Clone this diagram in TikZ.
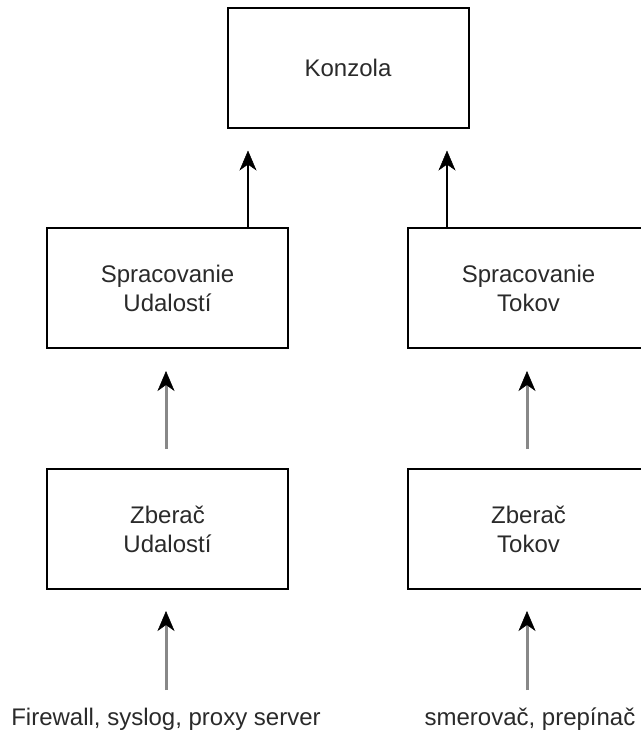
\documentclass[tikz,border=0pt]{standalone}
\usepackage{fontspec}
\setmainfont{Liberation Sans}
\usetikzlibrary{arrows.meta}
\definecolor{txt}{HTML}{2A2A2A}
\definecolor{lgrey}{HTML}{888888}
\tikzset{
  box/.style={draw=black, line width=2pt, minimum width=241pt, minimum height=120pt,
    inner sep=0pt, align=center, text=txt, font=\fontsize{24}{29}\selectfont},
  lbl/.style={inner sep=0pt, text=txt, font=\fontsize{24}{29}\selectfont},
  arrtip/.style={-{Stealth[length=20pt,width=17pt,inset=6pt,color=black,line width=0.5pt]}},
  toparr/.style={arrtip, draw=black, line width=2pt},
  lowarr/.style={arrtip, draw=lgrey, line width=3pt}
}
\begin{document}
\begin{tikzpicture}[x=1pt,y=-1pt]
\useasboundingbox (0,0) rectangle (640,731);
\fill[white] (0,0) rectangle (640,731);
\node[box] (kz) at (348,67.5) {Konzola};
\node[box] (su) at (167.5,288) {Spracovanie\\Udalostí};
\node[box] (st) at (528.5,288) {Spracovanie\\Tokov};
\node[box] (zu) at (167.5,529) {Zberač\\Udalostí};
\node[box] (zt) at (528.5,529) {Zberač\\Tokov};
\node[lbl] (fw) at (166,719) {Firewall, syslog, proxy server};
\node[lbl] (sm) at (530,719) {smerovač, prepínač};
% top arrows
\draw[toparr, shorten >=22pt] ([xshift=-41pt]su.north east) -- ([xshift=-41pt]su.north east |- kz.south);
\draw[toparr, shorten >=22pt] ([xshift=40pt]st.north west) -- ([xshift=40pt]st.north west |- kz.south);
% middle arrows
\draw[lowarr, shorten <=19pt, shorten >=22pt] ([xshift=-1.5pt]zu.north) -- ([xshift=-1.5pt]su.south);
\draw[lowarr, shorten <=19pt, shorten >=22pt] ([xshift=-1.5pt]zt.north) -- ([xshift=-1.5pt]st.south);
% bottom arrows
\draw[lowarr, shorten <=19pt, shorten >=21pt] (fw.north |- 0,709) -- (fw.north |- zu.south);
\draw[lowarr, shorten <=19pt, shorten >=21pt] ([xshift=-3pt]sm.north |- 0,709) -- ([xshift=-3pt]sm.north |- zt.south);
\end{tikzpicture}
\end{document}
